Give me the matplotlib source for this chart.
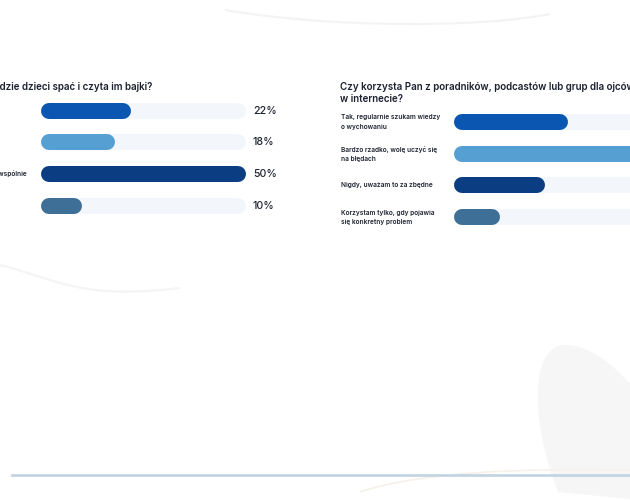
import matplotlib
matplotlib.use("Agg")
import matplotlib.pyplot as plt
import matplotlib.transforms as mtransforms
from matplotlib.patches import PathPatch
from matplotlib.path import Path

plt.rcParams["font.family"] = ["Inter", "DejaVu Sans"]

# lewy panel (ucięty na krawędzi kadru)
left_title = "Kto najczęściej kładzie dzieci spać i czyta im bajki?"
left_labels = ["Głównie ja", "Partnerka", "Zajmujemy się tym razem wspólnie", "Ktoś inny"]
left_values = [22, 18, 50, 10]

# prawy panel
right_title = "Czy korzysta Pan z poradników, podcastów lub grup dla ojców\nw internecie?"
right_labels = ["Tak, regularnie szukam wiedzy\no wychowaniu",
                "Bardzo rzadko, wolę uczyć się\nna błędach",
                "Nigdy, uważam to za zbędne",
                "Korzystam tylko, gdy pojawia\nsię konkretny problem"]
right_values = [25, 45, 20, 10]

bar_colors = ["#0a56b0", "#559fd3", "#0b3d82", "#3e6f97"]
track_color = "#f3f7fb"
text_color = "#1c2130"

W, H = 630, 500
fig = plt.figure(figsize=(W / 100, H / 100), dpi=100)
fig.patch.set_facecolor("white")

# tło w pikselach
bg = fig.add_axes([0, 0, 1, 1], zorder=0)
bg.set_xlim(0, W)
bg.set_ylim(H, 0)
bg.axis("off")

# delikatne dekoracje tła
top_curve = Path([(225, 10), (330, 28), (480, 28), (550, 14)],
                 [Path.MOVETO, Path.CURVE4, Path.CURVE4, Path.CURVE4])
bg.add_patch(PathPatch(top_curve, fill=False, ec="#f3f3f3", lw=1.5))
left_curve = Path([(0, 265), (60, 280), (80, 300), (180, 288)],
                  [Path.MOVETO, Path.CURVE4, Path.CURVE4, Path.CURVE4])
bg.add_patch(PathPatch(left_curve, fill=False, ec="#f4f4f4", lw=1.5))
blob = Path([(558, 492), (530, 420), (530, 345), (565, 345),
             (590, 345), (615, 365), (640, 395), (640, 500), (558, 492)],
            [Path.MOVETO, Path.CURVE4, Path.CURVE4, Path.CURVE4,
             Path.CURVE4, Path.CURVE4, Path.CURVE4, Path.LINETO, Path.CLOSEPOLY])
bg.add_patch(PathPatch(blob, fc="#f6f6f6", ec="none"))
bottom_curve = Path([(360, 492), (420, 472), (520, 468), (630, 470)],
                    [Path.MOVETO, Path.CURVE4, Path.CURVE4, Path.CURVE4])
bg.add_patch(PathPatch(bottom_curve, fill=False, ec="#f6f1ea", lw=1.2))
bg.plot([12, 630], [475, 475], color="#c4d5e1", lw=2)

LW_PX = 16
lw_pt = LW_PX * 72 / 100
renderer = fig.canvas.get_renderer()


def draw_panel(rect, labels, values, label_x, title, title_x, title_y, title_ha,
               label_end=None, end_idx=None):
    ax = fig.add_axes(rect, zorder=1)
    ax.set_facecolor("none")
    vmax = max(values)
    ax.set_xlim(0, vmax)
    ax.set_ylim(len(values) - 0.5, -0.5)
    ax.axis("off")
    # zaokrąglone końce: skrócenie linii o promień zaokrąglenia
    ax_w_px = rect[2] * W
    cap = (LW_PX / 2) * vmax / ax_w_px
    for i, v in enumerate(values):
        ax.plot([cap, vmax - cap], [i, i], color=track_color, lw=lw_pt,
                solid_capstyle="round", zorder=1)
        ax.plot([cap, v - cap], [i, i], color=bar_colors[i], lw=lw_pt,
                solid_capstyle="round", zorder=2)
        ax.annotate(f"{v}%", (vmax, i), xytext=(5, 0), textcoords="offset points",
                    ha="left", va="center", fontsize=7.6, color=text_color,
                    fontweight="medium", annotation_clip=False)
    tr = mtransforms.blended_transform_factory(bg.transData, ax.transData)
    texts = []
    for i, lab in enumerate(labels):
        texts.append(ax.text(label_x, i, lab, transform=tr, ha="left", va="center",
                             fontsize=4.7, fontweight="semibold", color=text_color,
                             linespacing=1.6))
    if label_end is not None:
        # wyrównanie kolumny etykiet tak, by dana etykieta kończyła się w label_end
        wpx = texts[end_idx].get_window_extent(renderer).width
        for t in texts:
            t.set_x(label_end - wpx)
    bg.text(title_x, title_y, title, ha=title_ha, va="top", fontsize=7.05,
            fontweight="semibold", color=text_color, linespacing=1.25)
    return ax


row_h = 31.7
# lewy: wiersze na 110.5 ... 205.5 px, pasek od 41 do 246 px
l_top = 110.5 - row_h / 2
draw_panel([41 / W, 1 - (l_top + 4 * row_h) / H, 205 / W, 4 * row_h / H],
           left_labels, left_values, -72,
           left_title, 152, 82, "right", label_end=27, end_idx=2)

# prawy: wiersze na 122 ... 217 px, pasek od 454 px (wychodzi poza kadr)
r_top = 122 - row_h / 2
draw_panel([454 / W, 1 - (r_top + 4 * row_h) / H, 205 / W, 4 * row_h / H],
           right_labels, right_values, 341,
           right_title, 340, 82, "left")

fig.savefig("out.png", dpi=100, facecolor="white")
